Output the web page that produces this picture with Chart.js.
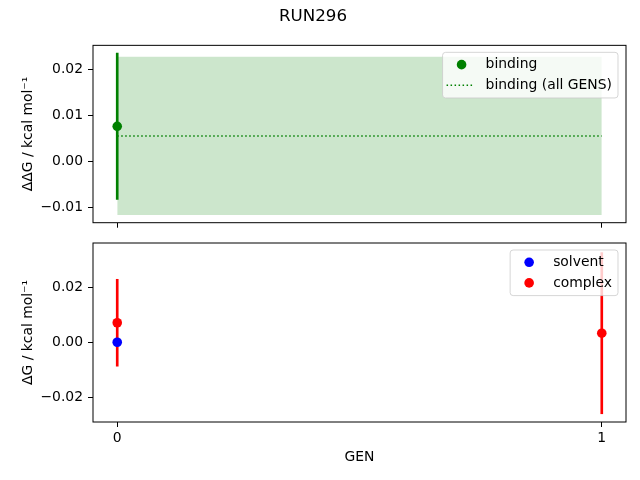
<!DOCTYPE html>
<html>
<head>
<meta charset="utf-8">
<script src="https://cdn.jsdelivr.net/npm/chart.js@4"></script>
<style>
  body { margin: 0; background: #fff; }
  #wrap { position: relative; width: 640px; height: 480px; }
  #wrap canvas { position: absolute; left: 0; top: 0; }
</style>
</head>
<body>
<div id="wrap">
  <canvas id="ddgChart" width="640" height="480"></canvas>
  <canvas id="dgChart" width="640" height="480"></canvas>
</div>
<script>
const gens = [0, 1];
const genTicks = [0, 1];

const bindingGens = [0];
const bindingValues = [0.0076];
const bindingErrors = [0.0159];
const bindingAllValue = 0.0055;
const bindingAllError = 0.0172;

const solventGens = [0];
const solventValues = [0.0];

const complexGens = [0, 1];
const complexValues = [0.0071, 0.0033];
const complexErrors = [0.0158, 0.0293];

const ddgTicks = [-0.01, 0, 0.01, 0.02];
const dgTicks = [-0.02, 0, 0.02];

Chart.defaults.font.family = '"DejaVu Sans", sans-serif';
Chart.defaults.font.size = 13.9;
Chart.defaults.color = '#000';

const fmt = (v) => v.toFixed(2).replace('-', '\u2212');

// black box round the plot area, like matplotlib spines
const frame = {
	id: 'frame',
	afterDatasetsDraw(chart) {
		const { ctx, chartArea: a } = chart;
		ctx.save();
		ctx.strokeStyle = '#000';
		ctx.lineWidth = 1;
		ctx.strokeRect(a.left, a.top, a.right - a.left, a.bottom - a.top);
		ctx.restore();
	},
};

// legend drawn inside the plot area, top right
const boxLegend = {
	id: 'boxLegend',
	afterDraw(chart) {
		const items = chart.data.datasets.filter((d) => d.legendStyle);
		if (!items.length) return;
		const { ctx, chartArea: a } = chart;
		ctx.save();
		ctx.font = '13.9px "DejaVu Sans"';
		const textW = Math.max(...items.map((d) => ctx.measureText(d.label).width));
		const w = 43 + textW + 6;
		const h = 25 + 20.6 * (items.length - 1);
		const x = a.right - 8 - w;
		const y = a.top + 7;
		ctx.beginPath();
		ctx.roundRect(x, y, w, h, 3);
		ctx.fillStyle = 'rgba(255,255,255,0.8)';
		ctx.fill();
		ctx.strokeStyle = 'rgba(204,204,204,0.8)';
		ctx.lineWidth = 1;
		ctx.stroke();
		items.forEach((d, i) => {
			const cy = y + 12.3 + 20.6 * i;
			if (d.legendStyle === 'dot') {
				ctx.beginPath();
				ctx.arc(x + 19, cy, 4.8, 0, Math.PI * 2);
				ctx.fillStyle = d.backgroundColor;
				ctx.fill();
			} else {
				ctx.beginPath();
				ctx.setLineDash([1.5, 2.5]);
				ctx.moveTo(x + 4, cy);
				ctx.lineTo(x + 32, cy);
				ctx.strokeStyle = d.borderColor;
				ctx.lineWidth = 1.5;
				ctx.stroke();
				ctx.setLineDash([]);
			}
			ctx.fillStyle = '#000';
			ctx.textBaseline = 'middle';
			ctx.textAlign = 'left';
			ctx.fillText(d.label, x + 43, cy);
		});
		ctx.restore();
	},
};

const yScale = (min, max, tickValues, title) => ({
	min: min,
	max: max,
	afterBuildTicks: (s) => { s.ticks = tickValues.map((v) => ({ value: v })); },
	afterFit: (s) => { s.width = 93; },
	border: { display: false },
	grid: { drawOnChartArea: false, tickLength: 5, color: '#000', lineWidth: 1 },
	ticks: { padding: 5, callback: (v) => fmt(v) },
	title: { display: true, text: title, padding: { top: 20, bottom: 0 } },
});

const xScale = (showLabels, height, title) => ({
	type: 'linear',
	min: -0.05,
	max: 1.05,
	offset: false,
	afterBuildTicks: (s) => { s.ticks = genTicks.map((v) => ({ value: v })); },
	afterFit: (s) => { s.height = height; },
	border: { display: false },
	grid: { offset: false, drawOnChartArea: false, tickLength: 5, color: '#000', lineWidth: 1 },
	ticks: { display: showLabels, padding: 3, maxRotation: 0, callback: (v) => String(v) },
	title: { display: !!title, text: title, padding: { top: 0, bottom: 14 } },
});

const errBars = (xs, ys, errs) => xs.map((g, i) => ({ x: g, y: [ys[i] - errs[i], ys[i] + errs[i]] }));
const points = (xs, ys) => xs.map((g, i) => ({ x: g, y: ys[i] }));

const ddgChart = new Chart(document.getElementById('ddgChart'), {
	type: 'scatter',
	data: {
		datasets: [
			{
				label: 'binding',
				legendStyle: 'dot',
				data: points(bindingGens, bindingValues),
				backgroundColor: 'green',
				borderColor: 'green',
				pointRadius: 4.8,
				pointBorderWidth: 0,
				order: 1,
			},
			{
				label: 'binding (all GENS)',
				legendStyle: 'dotted',
				data: gens.map((g) => ({ x: g, y: bindingAllValue })),
				showLine: true,
				borderColor: 'green',
				borderWidth: 1.5,
				borderDash: [1.5, 2.5],
				pointRadius: 0,
				order: 3,
			},
			{
				label: 'band upper',
				data: gens.map((g) => ({ x: g, y: bindingAllValue + bindingAllError })),
				showLine: true,
				borderColor: 'transparent',
				pointRadius: 0,
				fill: false,
				order: 4,
			},
			{
				label: 'band lower',
				data: gens.map((g) => ({ x: g, y: bindingAllValue - bindingAllError })),
				showLine: true,
				borderColor: 'transparent',
				backgroundColor: 'rgba(0,128,0,0.2)',
				pointRadius: 0,
				fill: '-1',
				order: 5,
			},
			{
				type: 'bar',
				label: 'binding err',
				data: errBars(bindingGens, bindingValues, bindingErrors),
				backgroundColor: 'green',
				barThickness: 2,
				order: 2,
			},
		],
	},
	options: {
		responsive: false,
		animation: false,
		events: [],
		layout: { padding: { left: 0, right: 14, top: 0, bottom: 247.3 } },
		plugins: {
			legend: { display: false },
			tooltip: { enabled: false },
			title: {
				display: true,
				text: 'RUN296',
				font: { size: 16.7, weight: 'normal' },
				padding: { top: 6.3, bottom: 19 },
			},
		},
		scales: {
			x: xScale(false, 10, ''),
			y: yScale(-0.01335, 0.0252, ddgTicks, 'ΔΔG / kcal mol⁻¹'),
		},
	},
	plugins: [frame, boxLegend],
});

const dgChart = new Chart(document.getElementById('dgChart'), {
	type: 'scatter',
	data: {
		datasets: [
			{
				label: 'solvent',
				legendStyle: 'dot',
				data: points(solventGens, solventValues),
				backgroundColor: 'blue',
				borderColor: 'blue',
				pointRadius: 4.8,
				pointBorderWidth: 0,
				order: 1,
			},
			{
				label: 'complex',
				legendStyle: 'dot',
				data: points(complexGens, complexValues),
				backgroundColor: 'red',
				borderColor: 'red',
				pointRadius: 4.8,
				pointBorderWidth: 0,
				order: 2,
			},
			{
				type: 'bar',
				label: 'complex err',
				data: errBars(complexGens, complexValues, complexErrors),
				backgroundColor: 'red',
				barThickness: 2,
				order: 3,
			},
		],
	},
	options: {
		responsive: false,
		animation: false,
		events: [],
		layout: { padding: { left: 0, right: 14, top: 243, bottom: 0 } },
		plugins: {
			legend: { display: false },
			tooltip: { enabled: false },
		},
		scales: {
			x: xScale(true, 58, 'GEN'),
			y: yScale(-0.029, 0.0361, dgTicks, 'ΔG / kcal mol⁻¹'),
		},
	},
	plugins: [frame, boxLegend],
});
</script>
</body>
</html>
